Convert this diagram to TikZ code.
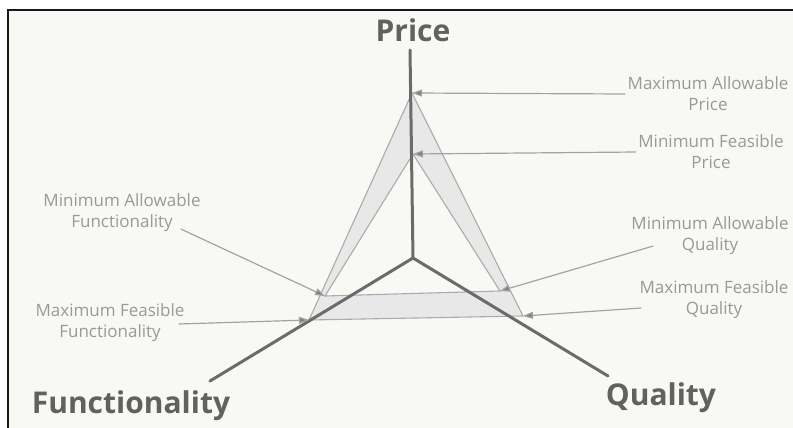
\documentclass[tikz,border=0pt]{standalone}
\usepackage{fontspec}
\setmainfont{Open Sans}
\usetikzlibrary{arrows.meta}

\definecolor{paper}{RGB}{248,249,245}

\begin{document}
\begin{tikzpicture}[
  x=1pt,
  y=-1pt,
  axis/.style={draw=black!58,line width=3pt,line cap=round},
  band/.style={draw=black!33,line width=1.1pt,line join=miter},
  lead/.style={draw=black!36,line width=1.2pt,-{Triangle[length=10pt,width=7pt,fill=black!50]}},
  lab/.style={font=\fontsize{17}{21}\selectfont,text=black!40,align=center,inner sep=2pt},
  axlab/.style={font=\fontsize{30}{32}\selectfont\bfseries,text=black!62,inner sep=0pt,anchor=base}
]
\useasboundingbox (0,0) rectangle (793,428);
\fill[white] (0,0) rectangle (793,428);
\fill[paper] (8,10) rectangle (793,428);
\draw[black!90,line width=2pt] (8,428) -- (8,10) -- (793,10);

\coordinate (o) at (413,258);
\coordinate (ptop) at (410,50);
\coordinate (fend) at (210,381);
\coordinate (qend) at (608,376);
\coordinate (pmax) at (412,93);
\coordinate (fmax) at (309,320);
\coordinate (qmax) at (523,316);
\coordinate (pmin) at (413,154);
\coordinate (fmin) at (325,296);
\coordinate (qmin) at (500,291);

\path[band,fill=black!9] (pmax) -- (fmax) -- (qmax) -- cycle;
\path[band,fill=paper] (pmin) -- (fmin) -- (qmin) -- cycle;

\draw[axis] (o) -- (ptop);
\draw[axis] (o) -- (fend);
\draw[axis] (o) -- (qend);

\node[axlab] (price) at (413,42) {Price};
\node[axlab] (func) at (131,413) {Functionality};
\node[axlab] (qual) at (661,405) {Quality};

\node[lab] (mapl) at (708,94) {Maximum Allowable\\Price};
\node[lab] (mfp) at (711,152) {Minimum Feasible\\Price};
\node[lab] (maq) at (710,236) {Minimum Allowable\\Quality};
\node[lab] (mfq) at (714,300) {Maximum Feasible\\Quality};
\node[lab] (maf) at (122,213) {Minimum Allowable\\Functionality};
\node[lab] (mff) at (110,323) {Maximum Feasible\\Functionality};

\draw[lead] (mapl.west) -- (pmax);
\draw[lead] (mfp.west) -- (pmin);
\draw[lead] ([shift={(24,10)}]maq.west) -- (qmin);
\draw[lead] ([shift={(4,8)}]mfq.west) -- (qmax);
\draw[lead] ([shift={(-22,16)}]maf.east) -- (fmin);
\draw[lead] ([shift={(-8,1)}]mff.east) -- (fmax);
\end{tikzpicture}
\end{document}
